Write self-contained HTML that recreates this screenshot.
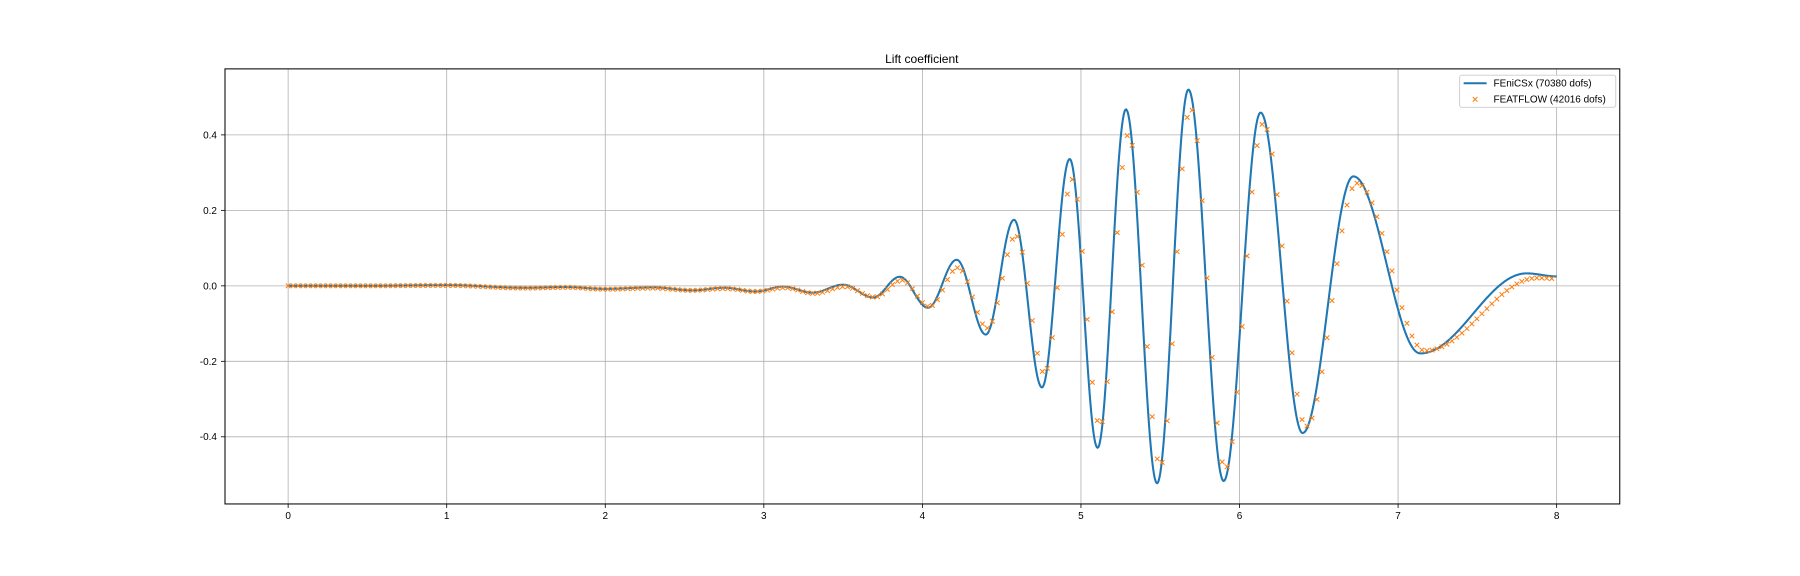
<!DOCTYPE html>
<html><head><meta charset="utf-8"><style>
body{margin:0;background:#fff;}
svg{display:block;font-family:"Liberation Sans","DejaVu Sans",sans-serif;}
</style></head><body>
<svg id="chart" width="1800" height="576" viewBox="0 0 1568 501.76">
<rect width="1568" height="502" fill="#fff"/>
<text x="803" y="55" font-size="10.5" text-anchor="middle" fill="#000">Lift coefficient</text>
<g id="grid"></g>
<g id="ticks"></g>
<g id="series"></g>
<rect x="196" y="60" width="1215" height="379" fill="none" stroke="#000" stroke-width="0.9"/>
<g>
<rect x="1271.5" y="65.5" width="136" height="28" rx="2" fill="#fff" fill-opacity="0.8" stroke="#ccc" stroke-width="0.8"/>
<g>
<line x1="1275" y1="72.5" x2="1295" y2="72.5" stroke="#1f77b4" stroke-width="1.8"/>
<text x="1301" y="75.5" font-size="8.7" fill="#000">FEniCSx  (70380 dofs)</text></g>
<g>
<path d="M1283,84.5L1287,88.5M1283,88.5L1287,84.5" stroke="#ff7f0e" stroke-width="0.9"/>
<text x="1301" y="89.5" font-size="8.7" fill="#000">FEATFLOW (42016 dofs)</text></g>
</g>
</svg>
<script>
const xTicks=[0,1,2,3,4,5,6,7,8];
const yTicks=[-0.4,-0.2,0.0,0.2,0.4];
// FEniCSx: extrema / key points (time, lift)
const fenTimes=[0,0.5,1.0,1.5,1.75,2.0,2.3,2.55,2.75,2.95,3.12,3.31,3.50,3.69,3.857,4.036,4.216,4.40,4.578,4.754,4.929,5.105,5.284,5.48,5.678,5.90,6.133,6.398,6.718,7.14,7.81,8.0];
const fenValues=[0,0.0,0.002,-0.005,-0.003,-0.008,-0.004,-0.012,-0.005,-0.015,-0.002,-0.018,0.003,-0.031,0.024,-0.058,0.069,-0.129,0.175,-0.269,0.336,-0.429,0.4675,-0.523,0.520,-0.517,0.459,-0.390,0.290,-0.179,0.033,0.025];
// FEATFLOW: extrema / key points (time, lift), sampled at marker times
const featTimes=[0,0.5,1.0,1.5,1.75,2.0,2.3,2.55,2.75,2.95,3.13,3.32,3.51,3.70,3.87,4.045,4.225,4.41,4.59,4.77,4.945,5.12,5.30,5.50,5.69,5.91,6.15,6.42,6.74,7.17,7.88,8.0];
const featValues=[0,0.0,0.001,-0.006,-0.004,-0.009,-0.006,-0.012,-0.007,-0.015,-0.005,-0.02,-0.002,-0.03,0.015,-0.055,0.048,-0.112,0.133,-0.232,0.282,-0.372,0.402,-0.478,0.472,-0.485,0.43,-0.372,0.272,-0.172,0.021,0.019];
const markerStep=0.0315;

const X0=251,XS=138.125,Y0=249,YS=328.75;
const sx=t=>X0+t*XS, sy=v=>Y0-v*YS;
const NS="http://www.w3.org/2000/svg";
function mk(tag,attrs,parent){const e=document.createElementNS(NS,tag);for(const k in attrs)e.setAttribute(k,attrs[k]);parent.appendChild(e);return e;}
function interp(ts,vs,t){
  for(let i=0;i<ts.length-1;i++){if(t<=ts[i+1]){const s=(t-ts[i])/(ts[i+1]-ts[i]);const w=(1-Math.cos(Math.PI*s))/2;return vs[i]+(vs[i+1]-vs[i])*w;}}
  return vs[vs.length-1];
}
const grid=document.getElementById('grid'),ticks=document.getElementById('ticks'),series=document.getElementById('series');
xTicks.forEach(t=>{
  const x=sx(t);
  const g=mk('line',{x1:x,y1:60,x2:x,y2:439,stroke:'#b0b0b0','stroke-width':0.7},grid);
  
  
  mk('line',{x1:x,y1:439,x2:x,y2:442.5,stroke:'#000','stroke-width':0.7},ticks);
  const l=mk('text',{x:x,y:452,'font-size':8.7,'text-anchor':'middle',fill:'#000'},ticks);
  l.textContent=String(t);
  
  
});
yTicks.forEach(v=>{
  const y=sy(v);
  const g=mk('line',{x1:196,y1:y,x2:1411,y2:y,stroke:'#b0b0b0','stroke-width':0.7},grid);
  
  
  mk('line',{x1:192.5,y1:y,x2:196,y2:y,stroke:'#000','stroke-width':0.7},ticks);
  const l=mk('text',{x:189,y:y+3,'font-size':8.7,'text-anchor':'end',fill:'#000'},ticks);
  l.textContent=v.toFixed(1);
  
  
});
let d='';
for(let i=0;i<=1600;i++){const t=i*8/1600;d+=(i?'L':'M')+sx(t).toFixed(2)+','+sy(interp(fenTimes,fenValues,t)).toFixed(2);}
const line=mk('path',{d:d,fill:'none',stroke:'#1f77b4','stroke-width':1.8},series);


const mg=mk('g',{stroke:'#ff7f0e','stroke-width':0.9},series);


for(let t=0;t<=8.0001;t+=markerStep){
  const x=sx(t),y=sy(interp(featTimes,featValues,t));
  const p=mk('path',{d:`M${x-2},${y-2}L${x+2},${y+2}M${x-2},${y+2}L${x+2},${y-2}`},mg);
  
  
}
</script>
</body></html>
